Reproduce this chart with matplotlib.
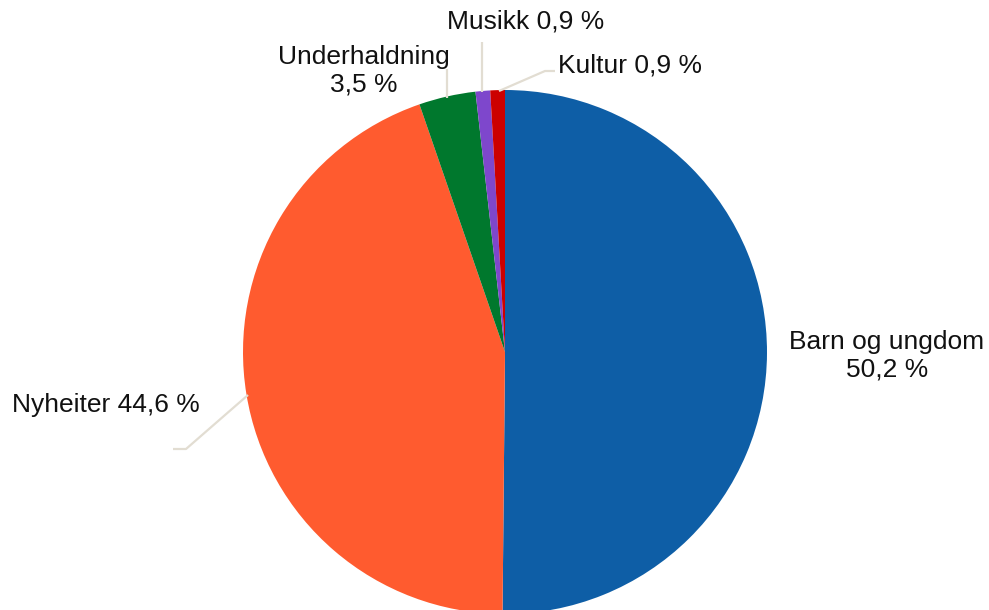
import matplotlib.pyplot as plt

# data
kategoriar = ["Barn og ungdom", "Nyheiter", "Underhaldning", "Musikk", "Kultur"]
prosent = [50.2, 44.6, 3.5, 0.9, 0.9]
etikettar = ["Barn og ungdom\n50,2 %", "Nyheiter 44,6 %", "Underhaldning\n3,5 %",
             "Musikk 0,9 %", "Kultur 0,9 %"]
fargar = ["#0E5EA6", "#FF5B2F", "#00782D", "#7E47CC", "#CC0000"]

W, H = 989, 610
plt.rcParams['font.family'] = ['Liberation Sans', 'DejaVu Sans']

fig = plt.figure(figsize=(W / 100, H / 100), dpi=100)
ax = fig.add_axes([0, 0, 1, 1])
ax.set_xlim(0, W)
ax.set_ylim(0, H)
ax.set_aspect('equal')
ax.axis('off')

def py(y):
    # pixel row -> data y
    return H - y

ax.pie(prosent, colors=fargar, startangle=90, counterclock=False,
       center=(505, py(352)), radius=262, wedgeprops=dict(linewidth=0),
       frame=True)
ax.set_xlim(0, W)
ax.set_ylim(0, H)
ax.axis('off')

# label placement (pixel coords): text anchor, alignment, leader line
oppsett = [
    ((887, 356), 'center', None),
    ((12, 405), 'left', [(248, 395), (186, 449), (173, 449)]),
    ((364, 71), 'center', [(447, 98), (447, 69)]),
    ((447, 22), 'left', [(482, 92), (482, 42)]),
    ((558, 66), 'left', [(499, 91), (545, 71), (555, 71)]),
]

for tekst, (pos, ha, linje) in zip(etikettar, oppsett):
    ax.text(pos[0], py(pos[1]), tekst, ha=ha, va='center', fontsize=19,
            color='#111111', linespacing=1.2)
    if linje:
        xs = [p[0] for p in linje]
        ys = [py(p[1]) for p in linje]
        ax.plot(xs, ys, color='#E2DDD2', lw=1.6, solid_capstyle='butt')

fig.savefig("out.png", dpi=100)
